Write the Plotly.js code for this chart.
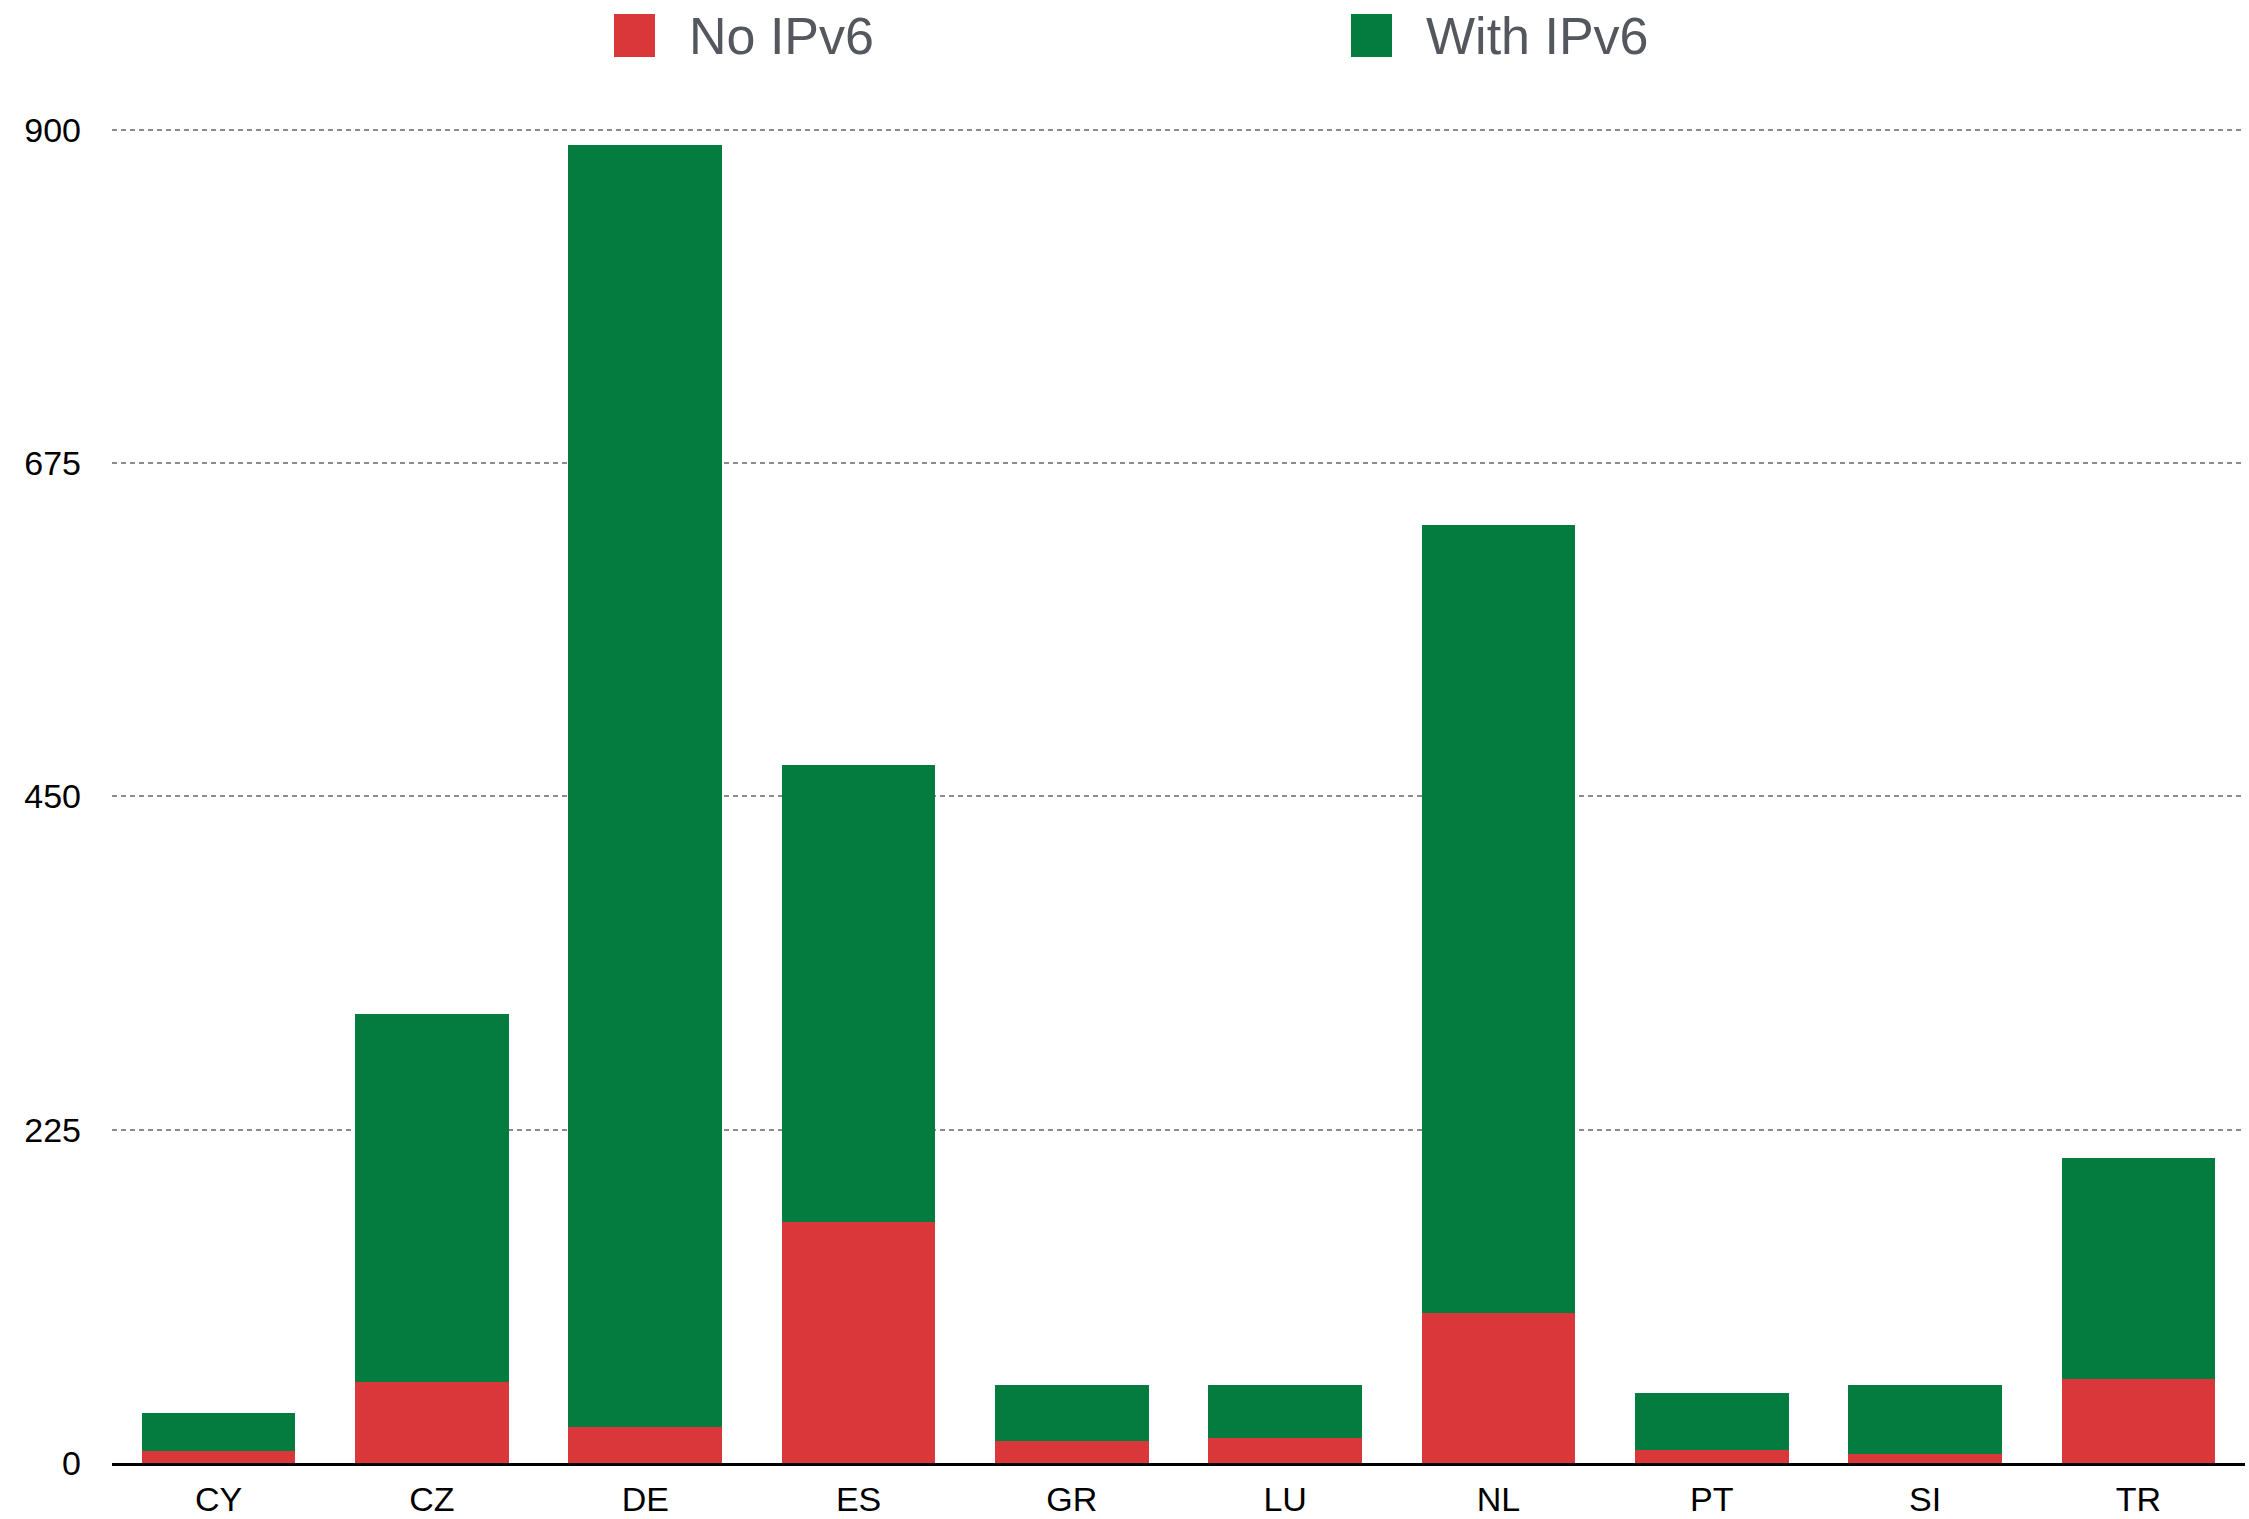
<!DOCTYPE html>
<html>
<head>
<meta charset="utf-8">
<script src="https://cdn.plot.ly/plotly-3.0.1.min.js"></script>
<style>
  html, body { margin: 0; padding: 0; background: #ffffff; }
  #chart { width: 2249px; height: 1519px; }
</style>
</head>
<body>
<div id="chart"></div>
<script>
// ---- Data ----
const categories = ["CY", "CZ", "DE", "ES", "GR", "LU", "NL", "PT", "SI", "TR"];
const noIPv6     = [8, 55, 24, 163, 15, 17, 101, 9, 6, 57];
const withIPv6   = [26, 248, 866, 308, 38, 36, 532, 38, 47, 149];
const seriesNames  = ["No IPv6", "With IPv6"];
const seriesColors = ["#da373a", "#047b3f"];
const yTicks = [0, 225, 450, 675, 900];
const yMax = 904;

// ---- Layout constants ----
const W = 2249, H = 1519;
const M = { l: 112, r: 4, t: 124, b: 56 };
const plotW = W - M.l - M.r, plotH = H - M.t - M.b;
const px2x = px => (px - M.l) / plotW;
const px2y = py => (H - M.b - py) / plotH;

const font = "Liberation Sans, Arial, Helvetica, sans-serif";

const traces = [noIPv6, withIPv6].map((vals, i) => ({
  type: "bar",
  name: seriesNames[i],
  x: categories,
  y: vals,
  marker: { color: seriesColors[i], line: { width: 0 } },
  showlegend: false,
  hoverinfo: "x+y+name"
}));

// Custom legend (large square swatches like the reference)
const legendItems = [
  { sq: [614, 655], text: 687 },
  { sq: [1351, 1392], text: 1424 }
];
const shapes = [], annotations = [];
legendItems.forEach((it, i) => {
  shapes.push({
    type: "rect", xref: "paper", yref: "paper",
    x0: px2x(it.sq[0]), x1: px2x(it.sq[1]),
    y0: px2y(57), y1: px2y(14),
    fillcolor: seriesColors[i], line: { width: 0 }
  });
  annotations.push({
    xref: "paper", yref: "paper",
    x: px2x(it.text), y: px2y(36),
    xanchor: "left", yanchor: "middle",
    text: seriesNames[i], showarrow: false,
    font: { family: font, size: 52, color: "#54585e" }
  });
});

const layout = {
  width: W, height: H,
  margin: M,
  paper_bgcolor: "#ffffff",
  plot_bgcolor: "#ffffff",
  barmode: "stack",
  bargap: 0.28,
  showlegend: false,
  font: { family: font, size: 34, color: "#000000" },
  xaxis: {
    type: "category",
    showgrid: false,
    showline: true, linecolor: "#000000", linewidth: 3,
    ticks: "",
    ticklabelstandoff: 4,
    tickfont: { family: font, size: 34, color: "#000000" },
    zeroline: false,
    fixedrange: true
  },
  yaxis: {
    range: [0, yMax],
    tickvals: yTicks,
    ticktext: yTicks.map(String),
    showgrid: true,
    gridcolor: "#8c8c8c", gridwidth: 2,
    griddash: "5px,4px",
    showline: false,
    zeroline: false,
    ticks: "",
    ticklabelstandoff: 30,
    tickfont: { family: font, size: 34, color: "#000000" },
    fixedrange: true
  },
  shapes: shapes,
  annotations: annotations
};

Plotly.newPlot("chart", traces, layout, { displayModeBar: false, staticPlot: true });
</script>
</body>
</html>
